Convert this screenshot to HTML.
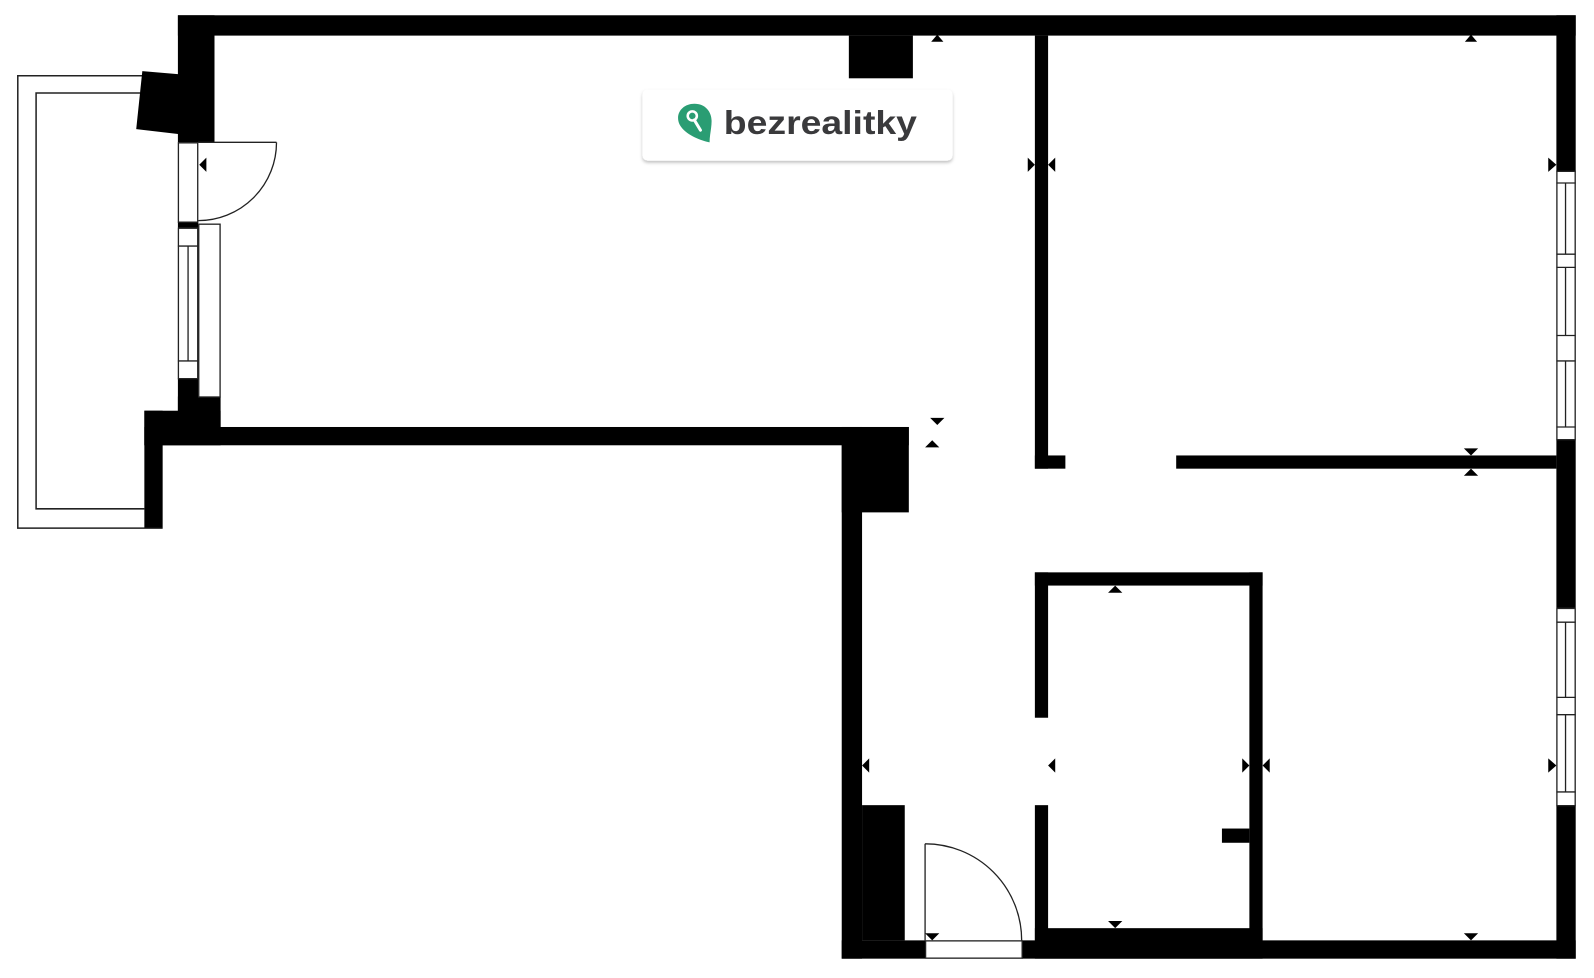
<!DOCTYPE html>
<html><head><meta charset="utf-8"><style>
html,body{margin:0;padding:0;background:#fff;width:1594px;height:978px;overflow:hidden}
svg{display:block}
</style></head><body>
<svg width="1594" height="978" viewBox="0 0 1568 962" xmlns="http://www.w3.org/2000/svg">
<defs><filter id="sh" x="-5%" y="-20%" width="110%" height="150%"><feDropShadow dx="0" dy="2" stdDeviation="1.5" flood-color="#000" flood-opacity="0.25"/></filter></defs>
<rect width="1568" height="962" fill="#fff"/>
<!-- balcony -->
<polyline points="142,74.5 17.5,74.5 17.5,519.5 160,519.5" fill="none" stroke="#222" stroke-width="1.5"/>
<polyline points="138,91.5 35.5,91.5 35.5,500.5 142,500.5" fill="none" stroke="#222" stroke-width="1.5"/>
<g fill="#000">
<rect x="175" y="15" width="1375" height="20"/>
<rect x="1531" y="15" width="19" height="154"/>
<rect x="175" y="15" width="36" height="125"/>
<polygon points="140,70 211,76 211,136 134,127"/>
<rect x="835" y="35" width="63" height="42"/>
<rect x="175" y="372" width="20" height="50"/>
<rect x="175" y="390" width="42" height="32"/>
<rect x="142" y="404" width="75" height="34"/>
<rect x="142" y="404" width="18" height="115"/>
<rect x="142" y="420" width="752" height="18"/>
<rect x="828" y="420" width="66" height="84"/>
<rect x="828" y="420" width="20" height="523"/>
<rect x="848" y="792" width="42" height="133"/>
<rect x="828" y="925" width="82" height="18"/>
<rect x="1005" y="925" width="545" height="18"/>
<rect x="1018" y="913" width="224" height="30"/>
<rect x="1018" y="35" width="13" height="426"/>
<rect x="1018" y="448" width="30" height="13"/>
<rect x="1157" y="448" width="374" height="13"/>
<rect x="1531" y="432" width="19" height="166"/>
<rect x="1531" y="792" width="19" height="151"/>
<rect x="1018" y="563" width="224" height="13"/>
<rect x="1018" y="563" width="13" height="143"/>
<rect x="1018" y="792" width="13" height="133"/>
<rect x="1229" y="563" width="13" height="362"/>
<rect x="1202" y="815" width="27" height="14"/>
<rect x="175" y="218" width="20" height="6"/>
</g>
<g fill="none" stroke="#222" stroke-width="1.3">
<rect x="175.5" y="140.5" width="19" height="78"/>
<line x1="195" y1="140" x2="272" y2="140"/>
<path d="M272,140 A77,77 0 0 1 195,217"/>
<rect x="175.5" y="224.5" width="19" height="148"/>
<line x1="175" y1="242" x2="195" y2="242"/>
<line x1="175" y1="355" x2="195" y2="355"/>
<line x1="185" y1="242" x2="185" y2="355"/>
<rect x="195.5" y="220.5" width="21" height="170"/>
<rect x="910.5" y="925.5" width="95" height="17"/>
<line x1="910" y1="830" x2="910" y2="925"/>
<path d="M910,830 A95,95 0 0 1 1005,925"/>
<rect x="1531.5" y="168.5" width="18" height="264"/>
<line x1="1531" y1="180" x2="1550" y2="180"/><line x1="1531" y1="250" x2="1550" y2="250"/>
<line x1="1531" y1="263" x2="1550" y2="263"/><line x1="1531" y1="330" x2="1550" y2="330"/>
<line x1="1531" y1="355" x2="1550" y2="355"/><line x1="1531" y1="420" x2="1550" y2="420"/>
<line x1="1540" y1="180" x2="1540" y2="250"/><line x1="1540" y1="263" x2="1540" y2="330"/><line x1="1540" y1="355" x2="1540" y2="420"/>
<rect x="1531.5" y="598.5" width="18" height="194"/>
<line x1="1531" y1="612" x2="1550" y2="612"/><line x1="1531" y1="686" x2="1550" y2="686"/>
<line x1="1531" y1="703" x2="1550" y2="703"/><line x1="1531" y1="779" x2="1550" y2="779"/>
<line x1="1540" y1="612" x2="1540" y2="686"/><line x1="1540" y1="703" x2="1540" y2="779"/>
</g>
<g fill="#000">
<polygon points="916,41 928,41 922,34"/>
<polygon points="1441,41 1453,41 1447,34"/>
<polygon points="196,162 203,155 203,169"/>
<polygon points="1011,155 1011,169 1018,162"/>
<polygon points="1038,155 1038,169 1031,162"/>
<polygon points="1523,155 1523,169 1531,162"/>
<polygon points="915,411 929,411 922,418"/>
<polygon points="910,440 924,440 917,433"/>
<polygon points="1440,441 1454,441 1447,448"/>
<polygon points="1440,468 1454,468 1447,461"/>
<polygon points="1090,583 1104,583 1097,576"/>
<polygon points="1090,906 1104,906 1097,913"/>
<polygon points="910,918 924,918 917,925"/>
<polygon points="1440,918 1454,918 1447,925"/>
<polygon points="848,753 855,746 855,760"/>
<polygon points="1031,753 1038,746 1038,760"/>
<polygon points="1222,746 1222,760 1229,753"/>
<polygon points="1249,746 1249,760 1242,753"/>
<polygon points="1523,746 1523,760 1531,753"/>
</g>
<rect x="632" y="88" width="305" height="70" rx="5" fill="#fff" filter="url(#sh)"/>
<path d="M683,102 C694,102 700,110 700,119 C700,126 698,133 698,140 C688,138 667,130 667,116 C667,108 674,102 683,102 Z" fill="#2a9d73"/>
<circle cx="681" cy="114" r="4.5" fill="none" stroke="#fff" stroke-width="2.5"/>
<line x1="683" y1="118" x2="689" y2="128" stroke="#fff" stroke-width="3" stroke-linecap="round"/>
<text x="712" y="132" font-family="'Liberation Sans',sans-serif" font-weight="bold" font-size="33" fill="#3a3a3c" textLength="190" lengthAdjust="spacingAndGlyphs">bezrealitky</text>
</svg>
</body></html>
